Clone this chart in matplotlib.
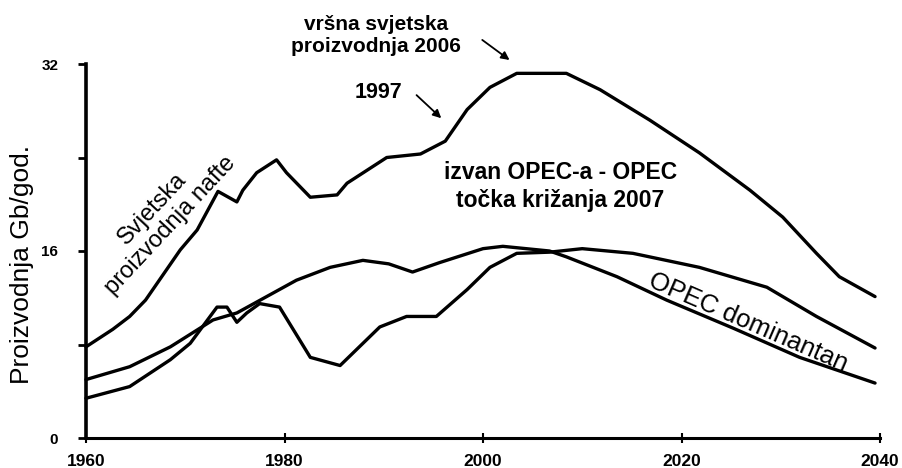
import matplotlib
matplotlib.use('Agg')
import matplotlib.pyplot as plt

# svjetska proizvodnja nafte (Gb/god.)
world_years = [1960, 1962.7, 1964.4, 1966, 1969.5, 1971.2, 1973.3, 1975.2, 1975.8, 1977.2, 1979.2,
               1980.2, 1982.6, 1985.3, 1986.3, 1990.3, 1993.7, 1996.2, 1998.4, 2000.7, 2003.4,
               2008.4, 2011.8, 2016.8, 2021.8, 2026.9, 2030.2, 2033.6, 2035.9, 2039.5]
world_vals = [7.8, 9.3, 10.4, 11.8, 16.1, 17.8, 21.1, 20.2, 21.2, 22.7, 23.8,
              22.7, 20.6, 20.8, 21.8, 24.0, 24.3, 25.4, 28.1, 30.0, 31.2,
              31.2, 29.8, 27.2, 24.4, 21.2, 18.9, 15.8, 13.8, 12.1]

# izvan OPEC-a
non_opec_years = [1960, 1964.4, 1968.5, 1972.8, 1975.2, 1978.2, 1981.2, 1984.6, 1987.9, 1990.5,
                  1992.9, 1995.6, 2000, 2002, 2006.7, 2008.4, 2013.5, 2018.5, 2025.2, 2031.9, 2039.5]
non_opec_vals = [5.0, 6.1, 7.8, 10.1, 10.7, 12.1, 13.5, 14.6, 15.2, 14.9,
                 14.2, 15.0, 16.2, 16.4, 16.0, 15.5, 13.8, 11.8, 9.4, 6.9, 4.7]

# OPEC
opec_years = [1960, 1964.4, 1968.5, 1970.5, 1973.2, 1974.2, 1975.2, 1976.2, 1977.5, 1979.5,
              1982.6, 1985.6, 1989.6, 1992.3, 1995.3, 1998.4, 2000.7, 2003.4, 2006.7, 2010,
              2015.1, 2021.8, 2028.6, 2033.6, 2039.5]
opec_vals = [3.4, 4.4, 6.7, 8.1, 11.2, 11.2, 9.9, 10.7, 11.5, 11.2,
             6.9, 6.2, 9.5, 10.4, 10.4, 12.7, 14.6, 15.8, 15.9, 16.2,
             15.8, 14.6, 12.9, 10.4, 7.7]

x_ticks = [1960, 1980, 2000, 2020, 2040]
y_ticks = [0, 8, 16, 24, 32]
y_labels = ['0', '', '16', '', '32']

plt.rcParams['font.family'] = ['Liberation Sans', 'DejaVu Sans']

fig = plt.figure(figsize=(9.03, 4.68), dpi=100)
ax = fig.add_axes([86 / 903, 30 / 468, 794 / 903, 374 / 468])

line_kw = dict(color='black', lw=2.4, solid_joinstyle='round', solid_capstyle='round', clip_on=False)
ax.plot(world_years, world_vals, **line_kw)
ax.plot(non_opec_years, non_opec_vals, **line_kw)
ax.plot(opec_years, opec_vals, **line_kw)

ax.set_xlim(1960, 2040)
ax.set_ylim(0, 32)
ax.set_xticks(x_ticks)
ax.set_xticklabels([str(x) for x in x_ticks], fontsize=12.5, fontweight='bold')
ax.set_yticks(y_ticks)
ax.set_yticklabels(y_labels, fontsize=11, fontweight='bold')
ax.tick_params(axis='y', direction='out', length=6, width=2, pad=14)
ax.tick_params(axis='x', direction='inout', length=7, width=1.5, pad=8)

for s in ['top', 'right']:
    ax.spines[s].set_visible(False)
ax.spines['left'].set_linewidth(2.6)
ax.spines['bottom'].set_linewidth(2.2)

fig.text(22 / 903, 1 - 265 / 468, 'Proizvodnja Gb/god.', rotation=90,
         ha='center', va='center', fontsize=19)

txt_kw = dict(ha='center', va='center', fontweight='bold', clip_on=False)
ax.text(1989.2, 34.4, 'vršna svjetska\nproizvodnja 2006', fontsize=15, linespacing=1.2, **txt_kw)
ax.text(1989.5, 29.6, '1997', fontsize=15.5, **txt_kw)
ax.text(2007.8, 21.5, 'izvan OPEC-a - OPEC\ntočka križanja 2007', fontsize=16.5, linespacing=1.25, **txt_kw)

ax.text(1967.6, 18.9, 'Svjetska\nproizvodnja nafte', fontsize=17, rotation=47,
        ha='center', va='center', rotation_mode='anchor', linespacing=1.1)
ax.text(2026.7, 9.9, 'OPEC dominantan', fontsize=18.5, rotation=-23.5,
        ha='center', va='center', rotation_mode='anchor')

arrow_kw = dict(arrowstyle='-|>', color='black', lw=1.3, mutation_scale=12)
ax.annotate('', xy=(2002.9, 32.2), xytext=(1999.7, 34.2), arrowprops=arrow_kw, annotation_clip=False)
ax.annotate('', xy=(1996.0, 27.2), xytext=(1993.1, 29.5), arrowprops=arrow_kw, annotation_clip=False)

fig.savefig('out.png', dpi=100)
